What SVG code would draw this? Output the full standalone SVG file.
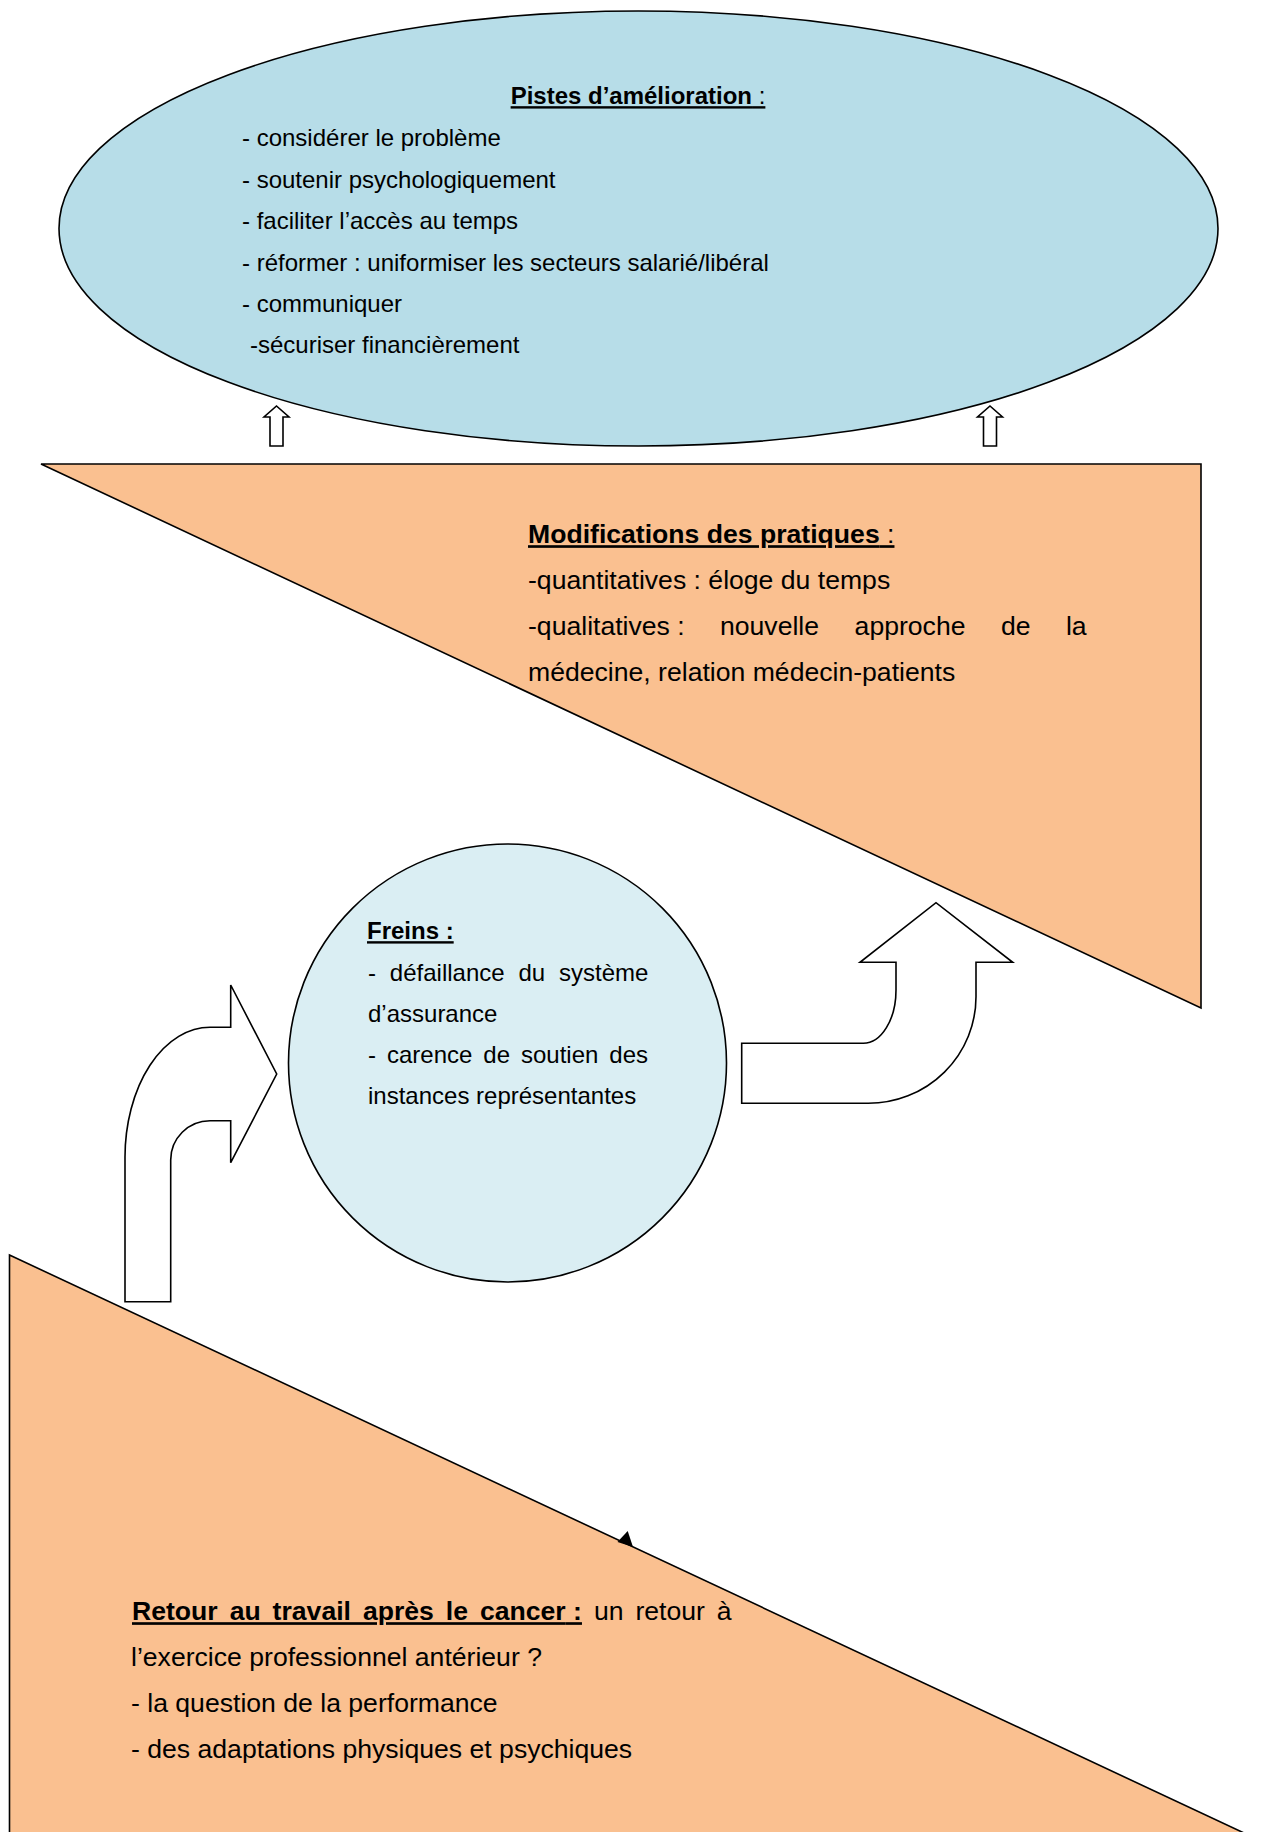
<svg xmlns="http://www.w3.org/2000/svg" width="1265" height="1832" viewBox="0 0 1265 1832">
<style>
text{font-family:"Liberation Sans",Arial,Helvetica,sans-serif;fill:#000}
.s{font-size:24px}
.l{font-size:26.6px}
.b{font-weight:bold}
.u{text-decoration:underline}
.shape{stroke:#000;stroke-width:1.6}
.orange{fill:#FAC090}
.arrow{fill:#fff;stroke:#000;stroke-width:1.6;stroke-linejoin:miter}
</style>
<rect width="1265" height="1832" fill="#fff"/>

<g id="node-modifications">
<polygon class="shape orange" points="41,464 1201,464 1201,1008"/>
<text class="l b u" x="528" y="543.2">Modifications des pratiques<tspan font-weight="normal"> :</tspan></text>
<text class="l" x="528" y="589.2">-quantitatives : éloge du temps</text>
<text class="l" y="635.2"><tspan x="528">-qualitatives :</tspan><tspan x="720">nouvelle</tspan><tspan x="854.6">approche</tspan><tspan x="1000.9">de</tspan><tspan x="1065.9">la</tspan></text>
<text class="l" x="528" y="681.2">médecine, relation médecin-patients</text>
</g>

<g id="node-retour">
<polygon class="shape orange" points="9.5,1255 1400,1906 9.5,1906"/>
<text class="l" x="132" y="1620.2" word-spacing="4.56"><tspan class="b u">Retour au travail après le cancer</tspan><tspan class="b u" word-spacing="0"> :</tspan> un retour à</text>
<text class="l" x="131" y="1666.2">l’exercice professionnel antérieur ?</text>
<text class="l" x="131" y="1712.2">- la question de la performance</text>
<text class="l" x="131" y="1758.2">- des adaptations physiques et psychiques</text>
</g>

<g id="node-pistes">
<ellipse class="shape" cx="638.5" cy="228.5" rx="579.5" ry="217.5" fill="#B7DDE8"/>
<text class="s u" x="638" y="104.2" text-anchor="middle"><tspan font-weight="bold">Pistes d’amélioration</tspan> :</text>
<text class="s" x="242" y="146.2">- considérer le problème</text>
<text class="s" x="242" y="187.7">- soutenir psychologiquement</text>
<text class="s" x="242" y="229.2">- faciliter l’accès au temps</text>
<text class="s" x="242" y="270.7">- réformer : uniformiser les secteurs salarié/libéral</text>
<text class="s" x="242" y="312.2">- communiquer</text>
<text class="s" x="250" y="353.2">-sécuriser financièrement</text>
</g>

<g id="node-freins">
<circle class="shape" cx="507.5" cy="1063" r="219" fill="#DAEEF3"/>
<text class="s b u" x="367" y="939.2">Freins :</text>
<text class="s" x="368" y="981.2" word-spacing="7.2">- défaillance du système</text>
<text class="s" x="368" y="1022.2">d’assurance</text>
<text class="s" x="368" y="1063.2" word-spacing="4.3">- carence de soutien des</text>
<text class="s" x="368" y="1104.2">instances représentantes</text>
</g>

<g id="connectors">
<path class="arrow" d="M276.5,406 L289,417 L283,417 L283,446 L270,446 L270,417 L264,417 Z"/>
<path class="arrow" d="M990,406 L1002.5,417 L996.5,417 L996.5,446 L983.5,446 L983.5,417 L977.5,417 Z"/>
<path class="arrow" d="M125,1301.7 L125,1157 A85,130 0 0 1 210,1027.3 L230.7,1027.3 L230.7,985 L276.7,1074 L230.7,1162.7 L230.7,1120.7 L210,1120.7 A39.3,39.3 0 0 0 170.7,1160 L170.7,1301.7 Z"/>
<path class="arrow" d="M741.7,1043.3 L863.3,1043.3 A32.7,53.3 0 0 0 896,990 L896,962.3 L860,962.3 L936,902.7 L1012.7,962.3 L976,962.3 L976,996.7 A107.7,106.6 0 0 1 868.3,1103.3 L741.7,1103.3 Z"/>
<polygon points="617.5,1542 627.7,1531 633,1547" fill="#000"/>
</g>
</svg>
